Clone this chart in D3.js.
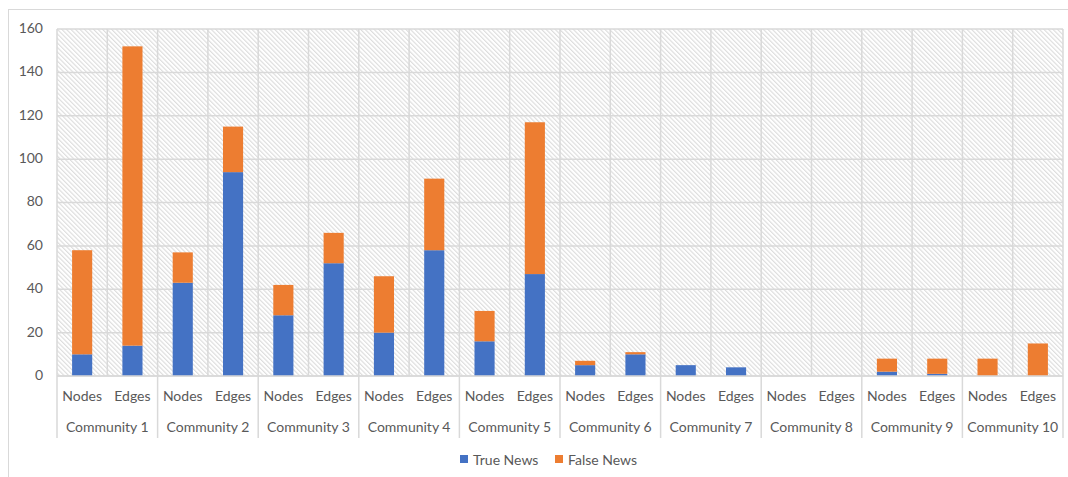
<!DOCTYPE html>
<html>
<head>
<meta charset="utf-8">
<script src="https://cdn.jsdelivr.net/npm/d3@7"></script>
<style>
  html, body { margin: 0; padding: 0; background: #ffffff; }
  svg { display: block; }
  text { font-family: Lato, "Open Sans", sans-serif; fill: #595959; }
</style>
</head>
<body>
<svg id="chart" width="1068" height="477"></svg>
<script>
// Communities and the two measures shown for each
const communities = ["Community 1", "Community 2", "Community 3", "Community 4", "Community 5",
                     "Community 6", "Community 7", "Community 8", "Community 9", "Community 10"];
const measures = ["Nodes", "Edges"];

// Stacked values per community: true news at the bottom, false news on top
const trueNodes  = [10, 43, 28, 20, 16, 5, 5, 0, 2, 0];
const falseNodes = [48, 14, 14, 26, 14, 2, 0, 0, 6, 8];
const trueEdges  = [14, 94, 52, 58, 47, 10, 4, 0, 1, 0];
const falseEdges = [138, 21, 14, 33, 70, 1, 0, 0, 7, 15];

const seriesNames = ["True News", "False News"];
const seriesColors = ["#4472C4", "#ED7D31"];
const yTicks = [0, 20, 40, 60, 80, 100, 120, 140, 160];

// Flatten into one row per bar for the stack layout
const rows = [];
communities.forEach((c, i) => {
  rows.push({ community: c, measure: "Nodes", "True News": trueNodes[i], "False News": falseNodes[i] });
  rows.push({ community: c, measure: "Edges", "True News": trueEdges[i], "False News": falseEdges[i] });
});

const svg = d3.select("#chart");
const plot = { left: 57, right: 1063, top: 29, bottom: 376 };
const fontSize = "14px";

const x0 = d3.scaleBand().domain(communities).range([plot.left, plot.right]).padding(0);
const x1 = d3.scaleBand().domain(measures).range([0, x0.bandwidth()]).padding(0);
const y = d3.scaleLinear().domain([0, 160]).range([plot.bottom, plot.top]);
const color = d3.scaleOrdinal().domain(seriesNames).range(seriesColors);

// Outer chart frame
svg.append("rect")
  .attr("x", 8.5).attr("y", 9.5)
  .attr("width", 1075).attr("height", 480)
  .attr("fill", "#ffffff")
  .attr("stroke", "#d9d9d9").attr("stroke-width", 1);

// Diagonal hatch fill for the plot area
const defs = svg.append("defs");
const pat = defs.append("pattern")
  .attr("id", "hatch")
  .attr("patternUnits", "userSpaceOnUse")
  .attr("width", 3.2).attr("height", 3.2)
  .attr("patternTransform", "rotate(-45)");
pat.append("rect").attr("width", 3.2).attr("height", 3.2).attr("fill", "#ffffff");
pat.append("line")
  .attr("x1", 0.6).attr("y1", 0).attr("x2", 0.6).attr("y2", 3.2)
  .attr("stroke", "#d9d9d9").attr("stroke-width", 1);

svg.append("rect")
  .attr("x", plot.left).attr("y", plot.top)
  .attr("width", plot.right - plot.left).attr("height", plot.bottom - plot.top)
  .attr("fill", "url(#hatch)");

// Gridlines
const grid = svg.append("g").attr("stroke", "#d9d9d9").attr("stroke-width", 1.5);
grid.selectAll("line.h").data(yTicks).join("line")
  .attr("class", "h")
  .attr("x1", plot.left).attr("x2", plot.right)
  .attr("y1", d => y(d)).attr("y2", d => y(d));

const slotEdges = [];
communities.forEach(c => measures.forEach(m => slotEdges.push(x0(c) + x1(m))));
slotEdges.push(plot.right);
grid.selectAll("line.v").data(slotEdges).join("line")
  .attr("class", "v")
  .attr("x1", d => d).attr("x2", d => d)
  .attr("y1", plot.top).attr("y2", plot.bottom);

// Stacked bars
const stack = d3.stack().keys(seriesNames);
const layers = stack(rows);
const barW = x1.bandwidth() * 0.4;

svg.append("g").selectAll("g").data(layers).join("g")
  .attr("fill", d => color(d.key))
  .selectAll("rect").data(d => d).join("rect")
  .attr("x", d => x0(d.data.community) + x1(d.data.measure) + (x1.bandwidth() - barW) / 2)
  .attr("width", barW)
  .attr("y", d => y(d[1]))
  .attr("height", d => y(d[0]) - y(d[1]));

// Y axis labels
const yAxis = d3.axisLeft(y).tickValues(yTicks).tickSize(0).tickPadding(14);
const gy = svg.append("g").attr("transform", `translate(${plot.left},-1)`).call(yAxis);
gy.select(".domain").remove();
gy.selectAll("text")
  .style("font-family", "Lato, 'Open Sans', sans-serif")
  .style("font-size", fontSize)
  .attr("fill", "#595959");

// Two-level category axis
const axisBottom = 438;
const cat = svg.append("g");
cat.append("line")
  .attr("x1", plot.left).attr("x2", plot.right)
  .attr("y1", plot.bottom).attr("y2", plot.bottom)
  .attr("stroke", "#d9d9d9").attr("stroke-width", 1.5);

const boundaries = communities.map(c => x0(c)).concat([plot.right]);
cat.selectAll("line.sep").data(boundaries).join("line")
  .attr("class", "sep")
  .attr("x1", d => d).attr("x2", d => d)
  .attr("y1", plot.bottom).attr("y2", axisBottom)
  .attr("stroke", "#d9d9d9").attr("stroke-width", 1.5);

cat.selectAll("text.m").data(rows).join("text")
  .attr("class", "m")
  .attr("x", d => x0(d.community) + x1(d.measure) + x1.bandwidth() / 2)
  .attr("y", 395)
  .attr("text-anchor", "middle")
  .attr("dominant-baseline", "central")
  .style("font-size", fontSize)
  .text(d => d.measure);

cat.selectAll("text.c").data(communities).join("text")
  .attr("class", "c")
  .attr("x", d => x0(d) + x0.bandwidth() / 2)
  .attr("y", 426)
  .attr("text-anchor", "middle")
  .attr("dominant-baseline", "central")
  .style("font-size", fontSize)
  .text(d => d);

// Legend
const legendPos = [460, 555];
const legend = svg.append("g");
const items = legend.selectAll("g").data(seriesNames).join("g")
  .attr("transform", (d, i) => `translate(${legendPos[i]},459)`);
items.append("rect")
  .attr("x", 0).attr("y", -4)
  .attr("width", 8).attr("height", 8)
  .attr("fill", d => color(d));
items.append("text")
  .attr("x", 13).attr("y", 0)
  .attr("dominant-baseline", "central")
  .style("font-size", fontSize)
  .text(d => d);
</script>
</body>
</html>
